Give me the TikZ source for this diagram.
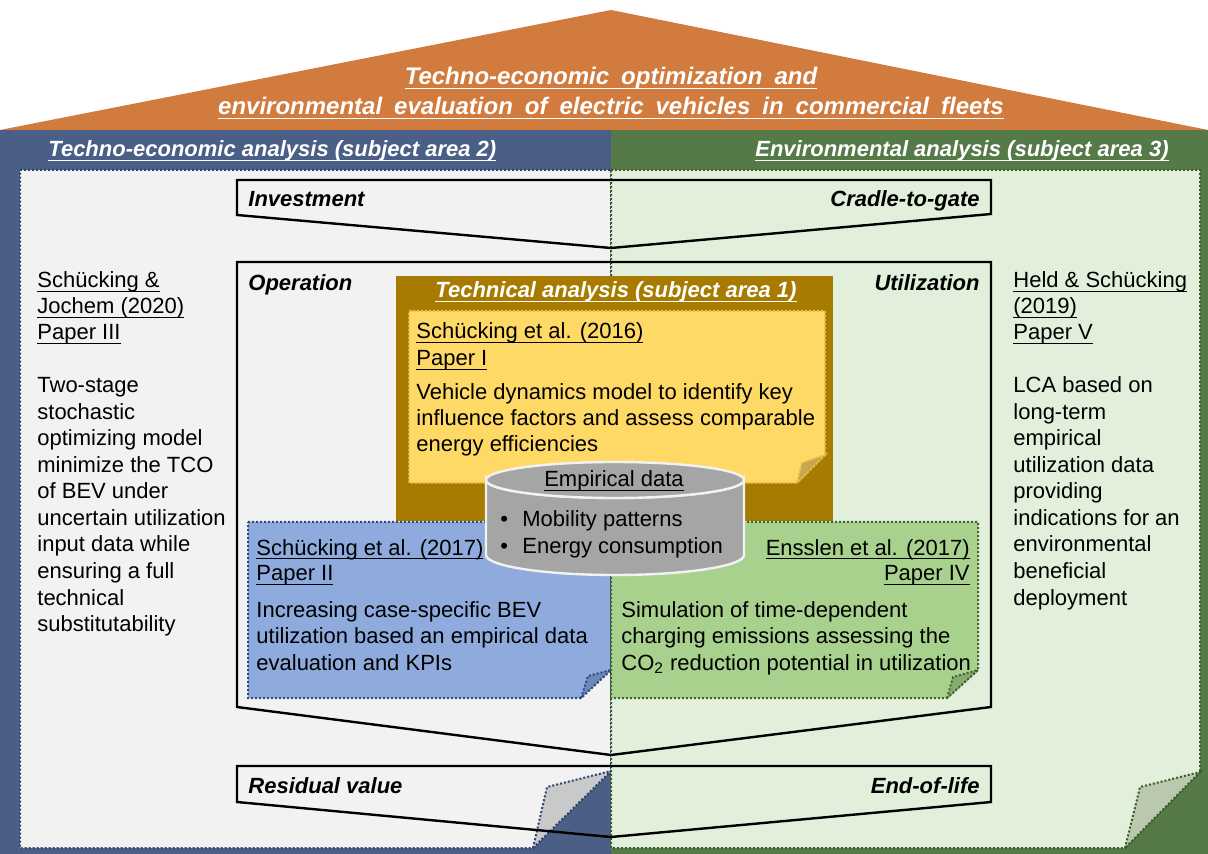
\documentclass[tikz,border=0pt]{standalone}
\usepackage{fontspec}
\setmainfont{Liberation Sans}
\newfontfamily\titlefont[WordSpace=1.8]{Liberation Sans}
\usepackage{tikz}

\newcommand\uln[1]{\leavevmode\setbox0\hbox{#1}\rlap{\rule[-2.1pt]{\wd0}{0.7pt}}\box0}

\definecolor{roof}{HTML}{D17B3E}
\definecolor{ecoblue}{HTML}{4A5E86}
\definecolor{envgreen}{HTML}{567948}
\definecolor{ecopaper}{HTML}{F2F2F2}
\definecolor{envpaper}{HTML}{E2EFDA}
\definecolor{ecodot}{HTML}{2E4372}
\definecolor{envdot}{HTML}{3A5A2C}
\definecolor{ecoflap}{HTML}{C9C9C9}
\definecolor{envflap}{HTML}{BAC8AE}
\definecolor{techbrown}{HTML}{A67B00}
\definecolor{techpaper}{HTML}{FFD966}
\definecolor{techdot}{HTML}{E3BC45}
\definecolor{techflap}{HTML}{C9A550}
\definecolor{bluepaper}{HTML}{8FAADC}
\definecolor{bluedot}{HTML}{2F4A80}
\definecolor{blueflap}{HTML}{6E87B8}
\definecolor{greenpaper}{HTML}{A9D18E}
\definecolor{greendot}{HTML}{3F6430}
\definecolor{greenflap}{HTML}{88AC70}
\definecolor{cylgray}{HTML}{A5A5A5}

\begin{document}
\begin{tikzpicture}[x=0.5pt,y=-0.5pt,
  txt/.style={anchor=base west, inner sep=0pt, font=\fontsize{11}{13}\selectfont},
  rtxt/.style={txt, anchor=base east},
  lbl/.style={anchor=base west, inner sep=0pt, font=\fontsize{11}{13}\selectfont\bfseries\itshape},
  rlbl/.style={lbl, anchor=base east},
  ttl/.style={inner sep=0pt, anchor=base, text=white, font=\titlefont\fontsize{12}{14}\selectfont\bfseries\itshape},
  frame/.style={draw=black, line width=1.2pt, line join=miter},
  paper/.style={densely dotted, line width=1pt}]
\useasboundingbox (0,0) rectangle (1208,854);

% roof and the two subject areas
\fill[roof] (0,130) -- (611,10) -- (1208,130) -- cycle;
\fill[ecoblue] (0,130) rectangle (611,854);
\fill[envgreen] (611,130) rectangle (1208,854);

\filldraw[paper, fill=ecopaper, draw=ecodot] (20,170) -- (611,170) -- (611,771) -- (533,848) -- (20,848) -- cycle;
\filldraw[paper, fill=ecoflap, draw=ecodot] (533,848) -- (547,787) -- (611,771) -- cycle;
\filldraw[paper, fill=envpaper, draw=envdot] (611,170) -- (1200,170) -- (1200,772) -- (1125,848) -- (611,848) -- cycle;
\filldraw[paper, fill=envflap, draw=envdot] (1125,848) -- (1140,787) -- (1200,772) -- cycle;

% life cycle phases
\draw[frame] (237,180) -- (991,180) -- (991,214) -- (611,248) -- (237,215) -- cycle;
\draw[frame] (237,262) -- (991,262) -- (991,707) -- (611,755) -- (237,707) -- cycle;
\draw[frame] (237,766) -- (991,766) -- (991,802) -- (611,837) -- (237,802) -- cycle;

% technical analysis
\fill[techbrown] (396,276) rectangle (833,521);
\filldraw[paper, fill=techpaper, draw=techdot] (409,311) -- (825,311) -- (825,455) -- (797,483) -- (409,483) -- cycle;
\filldraw[paper, fill=techflap, draw=techdot] (797,483) -- (802,463) -- (825,455) -- cycle;

\filldraw[paper, fill=bluepaper, draw=bluedot] (248,522) -- (611,522) -- (611,670) -- (581,698) -- (248,698) -- cycle;
\filldraw[paper, fill=blueflap, draw=bluedot] (581,698) -- (588,676) -- (611,670) -- cycle;
\filldraw[paper, fill=greenpaper, draw=greendot] (611,522) -- (978,522) -- (978,670) -- (947,698) -- (611,698) -- cycle;
\filldraw[paper, fill=greenflap, draw=greendot] (947,698) -- (953,677) -- (978,670) -- cycle;

% empirical data
\filldraw[fill=cylgray, draw=ecopaper, line width=1.2pt] (486,480) -- (486,555)
  arc[start angle=180, end angle=0, x radius=129, y radius=20] -- (744,480)
  arc[start angle=0, end angle=180, x radius=129, y radius=18] -- cycle;
\filldraw[fill=cylgray, draw=ecopaper, line width=1.2pt] (615,480) ellipse[x radius=129, y radius=18];

% texts
\node[ttl] (title1) at (611,85) {\uln{Techno-economic optimization and}};
\node[ttl] (title2) at (611,115) {\uln{environmental evaluation of electric vehicles in commercial fleets}};

\node[lbl, text=white] (area2) at (48,157) {\uln{Techno-economic analysis (subject area 2)}};
\node[rlbl, text=white] (area3) at (1169,157) {\uln{Environmental analysis (subject area 3)}};
\node[lbl, anchor=base, text=white] (area1) at (616,298) {\uln{Technical analysis (subject area 1)}};

\node[lbl] (invest) at (248,207) {Investment};
\node[rlbl] (cradle) at (980,207) {Cradle-to-gate};
\node[lbl] (operation) at (248,291) {Operation};
\node[rlbl] (utilization) at (980,291) {Utilization};
\node[lbl] (residual) at (248,793) {Residual value};
\node[rlbl] (eol) at (980,793) {End-of-life};

\foreach \t [count=\i from 0] in {Schücking \&, Jochem (2020), Paper III}
  \node[txt] (p3h\i) at (37,288+26*\i) {\uln{\t}};
\foreach \t [count=\i from 0] in {Two-stage, stochastic, optimizing model, minimize the TCO, of BEV under, uncertain utilization, input data while, ensuring a full, technical, substitutability}
  \node[txt] (p3b\i) at (37,393+26.5*\i) {\t};

\foreach \t [count=\i from 0] in {Held \& Schücking, (2019), Paper V}
  \node[txt] (p5h\i) at (1013,288+26*\i) {\uln{\t}};
\foreach \t [count=\i from 0] in {LCA based on, long-term, empirical, utilization data, providing, indications for an, environmental, beneficial, deployment}
  \node[txt] (p5b\i) at (1013,393+26.5*\i) {\t};

\node[txt] (p1h0) at (416,339) {\uln{Schücking et al. (2016)}};
\node[txt] (p1h1) at (416,366) {\uln{Paper I}};
\node[txt] (p1b0) at (416,400) {Vehicle dynamics model to identify key};
\node[txt] (p1b1) at (416,426) {influence factors and assess comparable};
\node[txt] (p1b2) at (416,452) {energy efficiencies};

\node[txt] (p2h0) at (256,555) {\uln{Schücking et al. (2017)}};
\node[txt] (p2h1) at (256,581) {\uln{Paper II}};
\node[txt] (p2b0) at (256,617) {Increasing case-specific BEV};
\node[txt] (p2b1) at (256,643) {utilization based an empirical data};
\node[txt] (p2b2) at (256,670) {evaluation and KPIs};

\node[rtxt] (p4h0) at (970,555) {\uln{Ensslen et al. (2017)}};
\node[rtxt] (p4h1) at (970,581) {\uln{Paper IV}};
\node[txt] (p4b0) at (621,617) {Simulation of time-dependent};
\node[txt] (p4b1) at (621,643) {charging emissions assessing the};
\node[txt] (p4b2) at (621,670) {CO\textsubscript{2} reduction potential in utilization};

\node[txt, anchor=base] (data) at (614,487) {\uln{Empirical data}};
\node[txt] (bul1) at (500,527) {\textbullet};
\node[txt] (mob) at (522,527) {Mobility patterns};
\node[txt] (bul2) at (500,553) {\textbullet};
\node[txt] (energy) at (522,553) {Energy consumption};
\end{tikzpicture}
\end{document}
